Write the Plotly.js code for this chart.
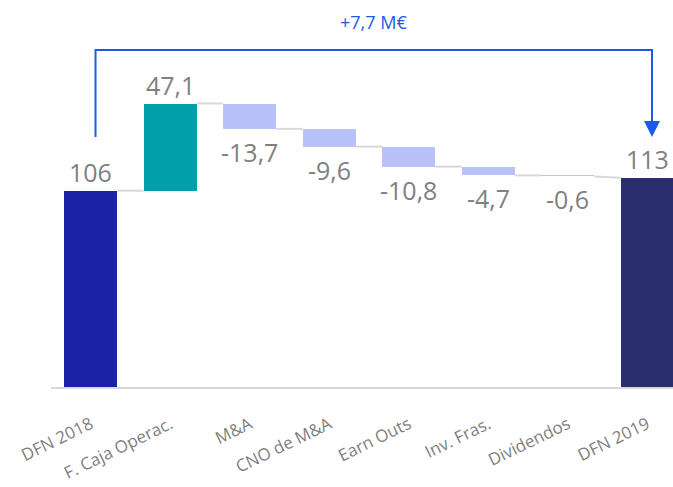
<!DOCTYPE html>
<html>
<head>
<meta charset="utf-8">
<script src="https://cdn.plot.ly/plotly-3.0.1.min.js"></script>
<style>html,body{margin:0;padding:0;background:#fff;}#chart{width:673px;height:487px;}</style>
</head>
<body>
<div id="chart"></div>
<script>
const categories = ['DFN 2018','F. Caja Operac.','M&A','CNO de M&A','Earn Outs','Inv. Fras.','Dividendos','DFN 2019'];
const values = [106, 47.1, -13.7, -9.6, -10.8, -4.7, -0.6, 113];
const measures = ['absolute','relative','relative','relative','relative','relative','relative','absolute'];
const labels = ['106','47,1','-13,7','-9,6','-10,8','-4,7','-0,6','113'];
const colors = ['#1B22A3','#00A0A8','#B9C1F9','#B9C1F9','#B9C1F9','#B9C1F9','#B9C1F9','#2A2D6E'];
const deltaLabel = '+7,7 M€';

const W = 0.667;
const xs = categories.map((c, i) => i);
const bases = [], heights = [], ends = [], starts = [];
let level = 0;
values.forEach((v, i) => {
  if (measures[i] === 'absolute') {
    bases.push(0); heights.push(v); starts.push(v); level = v;
  } else {
    bases.push(level); heights.push(v); starts.push(level); level = level + v;
  }
  ends.push(level);
});

const barTrace = {
  type: 'bar', x: xs, y: heights, base: bases, width: W,
  marker: {color: colors, line: {width: 0}}, hoverinfo: 'skip'
};

const cx = [], cy = [];
for (let i = 0; i < xs.length - 1; i++) {
  cx.push(xs[i] + W / 2, xs[i + 1] - W / 2, null);
  cy.push(ends[i], starts[i + 1], null);
}
const connTrace = {
  type: 'scatter', mode: 'lines', x: cx, y: cy,
  line: {color: '#D9D9D9', width: 2}, hoverinfo: 'skip'
};

const annotations = values.map((v, i) => {
  const top = Math.max(bases[i], bases[i] + heights[i]);
  const bot = Math.min(bases[i], bases[i] + heights[i]);
  const pos = v >= 0;
  return {
    x: xs[i], y: pos ? top : bot, xref: 'x', yref: 'y', text: labels[i], showarrow: false,
    yanchor: pos ? 'bottom' : 'top', yshift: pos ? 0 : -4,
    font: {family: 'Open Sans, sans-serif', size: 25, color: '#808080'}
  };
});

const n = categories.length - 1;
const bracketTop = 182, bracketBottom = 135, bx0 = 0.06, bx1 = n + 0.06;
const shapes = [{
  type: 'path', xref: 'x', yref: 'y',
  path: `M ${bx0} ${bracketBottom} L ${bx0} ${bracketTop} L ${bx1} ${bracketTop} L ${bx1} ${bracketTop - 5}`,
  line: {color: '#1A5BE6', width: 2}
}];
annotations.push(
  {x: bx1, y: bracketBottom, ax: bx1, ay: bracketTop - 4, xref: 'x', yref: 'y', axref: 'x', ayref: 'y',
   showarrow: true, arrowhead: 2, arrowsize: 1.6, arrowwidth: 2, arrowcolor: '#1A5BE6', text: ''},
  {x: (bx0 + bx1) / 2, y: 197, xref: 'x', yref: 'y', text: deltaLabel, showarrow: false,
   font: {family: 'Open Sans, sans-serif', size: 18, color: '#1A5BE6'}}
);

const layout = {
  width: 673, height: 487,
  margin: {l: 51, r: 0, t: 0, b: 100},
  paper_bgcolor: '#fff', plot_bgcolor: '#fff',
  showlegend: false,
  xaxis: {range: [-0.5, 7.324], tickvals: xs, ticktext: categories, tickangle: -26,
    showline: true, linecolor: '#D9D9D9', linewidth: 2, showgrid: false, zeroline: false, ticks: '',
    ticklabelstandoff: 19,
    tickfont: {family: 'Open Sans, sans-serif', size: 17, color: '#7F7F7F'}, fixedrange: true},
  yaxis: {range: [0, 209], visible: false, fixedrange: true},
  shapes: shapes, annotations: annotations, bargap: 0
};

Plotly.newPlot('chart', [barTrace, connTrace], layout, {displayModeBar: false, staticPlot: true});
</script>
</body>
</html>
